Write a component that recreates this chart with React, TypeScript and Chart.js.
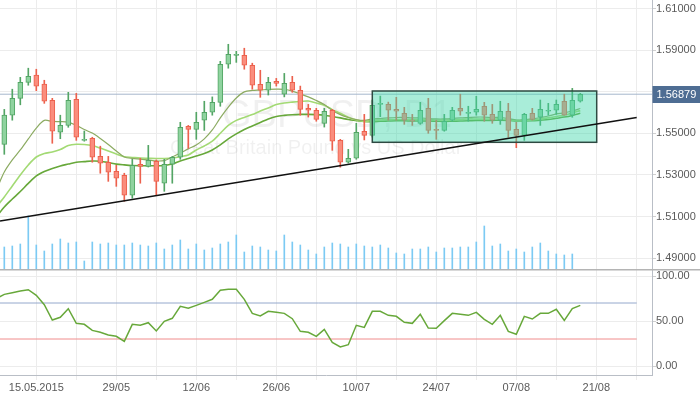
import React, { useEffect, useRef } from 'react';
import { Chart, registerables } from 'chart.js';

Chart.register(...registerables);

// ---------- data (daily GBPUSD candles, index 0 = 11.05.2015) ----------
const OPEN = [
  1.5447, 1.5587, 1.5668, 1.5745, 1.5780, 1.5737, 1.5659, 1.5505, 1.5538, 1.5663,
  1.5466, 1.5476, 1.5389, 1.5361, 1.5317, 1.5298, 1.5202, 1.5351, 1.5341, 1.5365,
  1.5260, 1.5351, 1.5385, 1.5534, 1.5519, 1.5563, 1.5601, 1.5649, 1.5832, 1.5875,
  1.5875, 1.5827, 1.5736, 1.5707, 1.5750, 1.5688, 1.5745, 1.5707, 1.5620, 1.5611,
  1.5548, 1.5611, 1.5466, 1.5361, 1.5380, 1.5510, 1.5490, 1.5639, 1.5639, 1.5615,
  1.5596, 1.5563, 1.5548, 1.5620, 1.5519, 1.5514, 1.5563, 1.5620, 1.5596, 1.5601,
  1.5630, 1.5591, 1.5563, 1.5606, 1.5519, 1.5490, 1.5596, 1.5577, 1.5606, 1.5611,
  1.5654, 1.5587, 1.5654,
];
const HIGH = [
  1.5615, 1.5712, 1.5769, 1.5813, 1.5808, 1.5755, 1.5668, 1.5587, 1.5697, 1.5692,
  1.5511, 1.5481, 1.5438, 1.5389, 1.5346, 1.5308, 1.5375, 1.5380, 1.5442, 1.5372,
  1.5375, 1.5389, 1.5553, 1.5538, 1.5601, 1.5654, 1.5675, 1.5846, 1.5928, 1.5894,
  1.5909, 1.5837, 1.5803, 1.5769, 1.5764, 1.5788, 1.5774, 1.5727, 1.5639, 1.5620,
  1.5620, 1.5615, 1.5471, 1.5423, 1.5548, 1.5591, 1.5660, 1.5679, 1.5650, 1.5673,
  1.5625, 1.5591, 1.5649, 1.5668, 1.5563, 1.5591, 1.5625, 1.5688, 1.5630, 1.5678,
  1.5649, 1.5639, 1.5654, 1.5644, 1.5553, 1.5596, 1.5620, 1.5660, 1.5644, 1.5660,
  1.5688, 1.5716, 1.5692,
];
const LOW = [
  1.5399, 1.5563, 1.5637, 1.5731, 1.5705, 1.5644, 1.5452, 1.5474, 1.5529, 1.5466,
  1.5462, 1.5361, 1.5308, 1.5269, 1.5245, 1.5173, 1.5188, 1.5260, 1.5338, 1.5200,
  1.5221, 1.5260, 1.5375, 1.5428, 1.5471, 1.5514, 1.5587, 1.5630, 1.5813, 1.5841,
  1.5808, 1.5712, 1.5673, 1.5684, 1.5727, 1.5675, 1.5697, 1.5587, 1.5578, 1.5558,
  1.5530, 1.5418, 1.5337, 1.5357, 1.5375, 1.5468, 1.5482, 1.5580, 1.5563, 1.5563,
  1.5543, 1.5538, 1.5543, 1.5500, 1.5471, 1.5510, 1.5558, 1.5587, 1.5558, 1.5587,
  1.5558, 1.5548, 1.5543, 1.5481, 1.5431, 1.5466, 1.5563, 1.5538, 1.5587, 1.5591,
  1.5587, 1.5577, 1.5650,
];
const CLOSE = [
  1.5587, 1.5668, 1.5745, 1.5774, 1.5726, 1.5654, 1.5510, 1.5538, 1.5659, 1.5481,
  1.5471, 1.5385, 1.5356, 1.5313, 1.5284, 1.5202, 1.5346, 1.5341, 1.5370, 1.5269,
  1.5351, 1.5385, 1.5529, 1.5519, 1.5553, 1.5601, 1.5649, 1.5832, 1.5880, 1.5880,
  1.5827, 1.5731, 1.5707, 1.5745, 1.5740, 1.5740, 1.5707, 1.5615, 1.5611, 1.5567,
  1.5606, 1.5462, 1.5361, 1.5380, 1.5505, 1.5490, 1.5635, 1.5644, 1.5611, 1.5606,
  1.5563, 1.5558, 1.5611, 1.5514, 1.5514, 1.5558, 1.5611, 1.5606, 1.5601, 1.5615,
  1.5587, 1.5563, 1.5606, 1.5514, 1.5490, 1.5591, 1.5567, 1.5615, 1.5611, 1.5639,
  1.5587, 1.5659, 1.56879,
];
const VOLUME = [
  22, 23, 25, 53, 24, 18, 25, 30, 26, 27,
  8, 27, 25, 26, 24, 24, 26, 24, 23, 26,
  20, 24, 29, 20, 25, 19, 21, 25, 27, 34,
  17, 23, 22, 19, 18, 34, 27, 24, 19, 15,
  22, 26, 25, 22, 25, 23, 22, 24, 21, 16,
  15, 20, 20, 22, 17, 21, 21, 22, 22, 27,
  43, 23, 25, 18, 20, 17, 22, 26, 18, 15,
  14, 15,
];
// indicator series start one bar before the first visible candle
const SERIES_START = -1;
const MA_FAST = [
  1.5227,
  1.5314, 1.5372, 1.5420, 1.5473, 1.5525, 1.5562, 1.5557, 1.5556, 1.5554, 1.5538,
  1.5518, 1.5501, 1.5475, 1.5446, 1.5415, 1.5386, 1.5379, 1.5376, 1.5372, 1.5367,
  1.5369, 1.5386, 1.5405, 1.5425, 1.5444, 1.5473, 1.5516, 1.5574, 1.5626, 1.5670,
  1.5699, 1.5706, 1.5708, 1.5711, 1.5712, 1.5711, 1.5703, 1.5689, 1.5675, 1.5658,
  1.5638, 1.5610, 1.5590, 1.5576, 1.5566, 1.5562, 1.5569, 1.5571, 1.5574, 1.5576,
  1.5576, 1.5574, 1.5574, 1.5571, 1.5569, 1.5569, 1.5571, 1.5574, 1.5576, 1.5578,
  1.5578, 1.5576, 1.5576, 1.5571, 1.5564, 1.5566, 1.5569, 1.5576, 1.5583, 1.5593,
  1.5598, 1.5607, 1.5619,
];
const MA_MID = [
  1.5146,
  1.5194, 1.5247, 1.5300, 1.5348, 1.5386, 1.5403, 1.5410, 1.5422, 1.5441, 1.5447,
  1.5446, 1.5441, 1.5429, 1.5415, 1.5400, 1.5387, 1.5384, 1.5381, 1.5380, 1.5379,
  1.5379, 1.5381, 1.5388, 1.5396, 1.5420, 1.5439, 1.5462, 1.5500, 1.5538, 1.5562,
  1.5576, 1.5590, 1.5607, 1.5622, 1.5638, 1.5646, 1.5650, 1.5653, 1.5655, 1.5646,
  1.5635, 1.5614, 1.5596, 1.5577, 1.5564, 1.5557, 1.5562, 1.5564, 1.5566, 1.5566,
  1.5566, 1.5566, 1.5566, 1.5566, 1.5564, 1.5564, 1.5564, 1.5566, 1.5569, 1.5569,
  1.5569, 1.5569, 1.5569, 1.5566, 1.5562, 1.5562, 1.5564, 1.5569, 1.5574, 1.5581,
  1.5588, 1.5598, 1.5609,
];
const MA_SLOW = [
  1.5098,
  1.5146, 1.5184, 1.5220, 1.5259, 1.5295, 1.5316, 1.5331, 1.5343, 1.5352, 1.5361,
  1.5364, 1.5367, 1.5366, 1.5360, 1.5352, 1.5348, 1.5345, 1.5344, 1.5344, 1.5344,
  1.5345, 1.5352, 1.5367, 1.5379, 1.5391, 1.5403, 1.5420, 1.5444, 1.5473, 1.5497,
  1.5518, 1.5535, 1.5552, 1.5569, 1.5581, 1.5586, 1.5589, 1.5591, 1.5591, 1.5590,
  1.5587, 1.5581, 1.5574, 1.5566, 1.5561, 1.5557, 1.5556, 1.5558, 1.5559, 1.5560,
  1.5560, 1.5559, 1.5559, 1.5559, 1.5558, 1.5557, 1.5558, 1.5559, 1.5560, 1.5562,
  1.5562, 1.5562, 1.5563, 1.5562, 1.5559, 1.5559, 1.5560, 1.5563, 1.5566, 1.5572,
  1.5578, 1.5586, 1.5596,
];
const OSC = [
  75.0,
  79.6, 81.5, 83.3, 84.8, 78.5, 68.1, 51.1, 54.1, 63.7, 47.4,
  46.3, 39.6, 37.4, 34.4, 33.0, 27.4, 46.3, 45.2, 48.1, 38.9,
  49.6, 53.0, 66.3, 64.1, 67.4, 70.7, 74.1, 84.1, 85.2, 85.2,
  74.1, 58.5, 55.6, 60.7, 59.6, 58.5, 52.6, 38.5, 37.4, 33.0,
  40.7, 26.3, 21.1, 23.7, 45.2, 42.9, 60.7, 60.7, 56.3, 55.2,
  48.5, 47.4, 57.4, 42.2, 41.9, 50.4, 58.5, 57.4, 56.3, 59.6,
  51.9, 46.3, 56.3, 38.5, 35.2, 55.2, 52.2, 58.5, 58.5, 63.0,
  50.7, 63.7, 67.4,
];
const OSC_LEVELS = [70, 30];
const LAST_PRICE = 1.56879;

const X_TICK_POS = [4, 14, 24, 34, 44, 54, 64, 74];
const X_TICK_LABELS = ['15.05.2015', '29/05', '12/06', '26/06', '10/07', '24/07', '07/08', '21/08'];
const PRICE_TICKS = [1.49, 1.51, 1.53, 1.55, 1.57, 1.59, 1.61];
const OSC_TICKS = [0, 50, 100];

// drawn objects (in data units)
const TREND_X = [-0.5375, 79.05];
const TREND_Y = [1.5078, 1.5576];
const RECT_X = [46, 74.05];
const RECT_Y = [1.57034, 1.54567];
const LEVEL_END_X = 79.05;

const WATERMARK_TITLE = 'GBPUSD, D1';
const WATERMARK_SUB = 'Great Britain Pound vs US Dollar';

// ---------- layout / style ----------
const X_MIN = -0.5375;
const X_MAX = 80.9625;
const Y_MIN = 1.48476;
const Y_MAX = 1.614087;
const OSC_MIN = -10;
const OSC_MAX = 107.78;
const GRID = '#ececec';
const AXIS = '#b9bec6';
const LABEL = '#5a5a5a';
const FONT = "'Liberation Sans', Arial, sans-serif";
const UP_FILL = '#8fd39f';
const UP_LINE = '#53a565';
const DN_FILL = '#fa8d7d';
const DN_LINE = '#ec614d';

function gridTicks() {
  const t: { value: number }[] = [];
  for (let v = X_TICK_POS[0]; v <= X_MAX; v += 5) t.push({ value: v });
  return t;
}

export default function App() {
  const topRef = useRef<HTMLCanvasElement>(null);
  const botRef = useRef<HTMLCanvasElement>(null);

  useEffect(() => {
    Chart.defaults.font.family = FONT;
    Chart.defaults.font.size = 11;

    const idx = OPEN.map((_, i) => i);
    const up = idx.map((i) => CLOSE[i] >= OPEN[i]);
    const series = (arr: number[]) => arr.map((v, i) => ({ x: i + SERIES_START, y: v }));

    const topPlugin = {
      id: 'topOverlay',
      beforeDatasetsDraw(chart: any) {
        const { ctx } = chart;
        ctx.save();
        ctx.fillStyle = 'rgba(0,0,0,0.06)';
        ctx.textBaseline = 'alphabetic';
        ctx.textAlign = 'left';
        ctx.font = `38px ${FONT}`;
        ctx.fillText(WATERMARK_TITLE, 222, 127);
        ctx.font = `20px ${FONT}`;
        ctx.fillText(WATERMARK_SUB, 170, 154);
        ctx.restore();
      },
      beforeDatasetDraw(chart: any, args: any) {
        if (chart.data.datasets[args.index].label !== 'trend') return;
        const xs = chart.scales.x;
        const ys = chart.scales.y;
        const x1 = xs.getPixelForValue(RECT_X[0]);
        const x2 = xs.getPixelForValue(RECT_X[1]);
        const y1 = ys.getPixelForValue(RECT_Y[0]);
        const y2 = ys.getPixelForValue(RECT_Y[1]);
        const { ctx } = chart;
        ctx.save();
        ctx.fillStyle = 'rgba(64,214,170,0.45)';
        ctx.fillRect(x1, y1, x2 - x1, y2 - y1);
        ctx.strokeStyle = '#2e4a42';
        ctx.lineWidth = 1.5;
        ctx.strokeRect(x1, y1, x2 - x1, y2 - y1);
        ctx.restore();
      },
      afterDraw(chart: any) {
        const { ctx, chartArea } = chart;
        const y = chart.scales.y.getPixelForValue(LAST_PRICE);
        ctx.save();
        ctx.fillStyle = '#4e6d93';
        ctx.fillRect(chartArea.right + 0.5, Math.round(y) - 8, 48, 17);
        ctx.fillStyle = '#ffffff';
        ctx.font = `11px ${FONT}`;
        ctx.textBaseline = 'middle';
        ctx.textAlign = 'left';
        ctx.fillText(LAST_PRICE.toFixed(5), chartArea.right + 4.5, Math.round(y) + 0.5);
        ctx.restore();
      },
    };

    const c1 = new Chart(topRef.current as HTMLCanvasElement, {
      type: 'bar',
      data: {
        datasets: [
          {
            type: 'line',
            label: 'trend',
            data: [
              { x: TREND_X[0], y: TREND_Y[0] },
              { x: TREND_X[1], y: TREND_Y[1] },
            ],
            borderColor: '#111111',
            borderWidth: 1.5,
            pointRadius: 0,
            yAxisID: 'y',
            order: 0,
          },
          {
            type: 'bar',
            label: 'body',
            data: idx.map((i) => ({ x: i, y: [Math.min(OPEN[i], CLOSE[i]), Math.max(OPEN[i], CLOSE[i])] })),
            backgroundColor: up.map((u) => (u ? UP_FILL : DN_FILL)),
            borderColor: up.map((u) => (u ? UP_LINE : DN_LINE)),
            borderWidth: 1,
            borderSkipped: false,
            barThickness: 5,
            grouped: false,
            yAxisID: 'y',
            order: 1,
          },
          {
            type: 'bar',
            label: 'wick',
            data: idx.map((i) => ({ x: i, y: [LOW[i], HIGH[i]] })),
            backgroundColor: up.map((u) => (u ? UP_LINE : DN_LINE)),
            borderWidth: 0,
            barThickness: 1,
            grouped: false,
            yAxisID: 'y',
            order: 2,
          },
          {
            type: 'line',
            label: 'maFast',
            data: series(MA_FAST),
            borderColor: '#8cab62',
            borderWidth: 1.2,
            pointRadius: 0,
            tension: 0.3,
            yAxisID: 'y',
            order: 3,
          },
          {
            type: 'line',
            label: 'maMid',
            data: series(MA_MID),
            borderColor: '#a3da74',
            borderWidth: 1.6,
            pointRadius: 0,
            tension: 0.3,
            yAxisID: 'y',
            order: 4,
          },
          {
            type: 'line',
            label: 'maSlow',
            data: series(MA_SLOW),
            borderColor: '#67a83a',
            borderWidth: 1.6,
            pointRadius: 0,
            tension: 0.3,
            yAxisID: 'y',
            order: 5,
          },
          {
            type: 'line',
            label: 'last',
            data: [
              { x: X_MIN, y: LAST_PRICE },
              { x: X_MAX, y: LAST_PRICE },
            ],
            borderColor: '#a6b7cc',
            borderWidth: 1,
            pointRadius: 0,
            yAxisID: 'y',
            order: 6,
          },
          {
            type: 'bar',
            label: 'volume',
            data: VOLUME.map((v, i) => ({ x: i, y: v })),
            backgroundColor: '#7ccaf3',
            borderWidth: 0,
            barThickness: 1,
            grouped: false,
            yAxisID: 'yVol',
            order: 7,
          },
        ],
      } as any,
      options: {
        responsive: false,
        animation: false,
        events: [],
        layout: { padding: 0 },
        plugins: { legend: { display: false }, tooltip: { enabled: false } },
        scales: {
          x: {
            type: 'linear',
            min: X_MIN,
            max: X_MAX,
            offset: false,
            bounds: 'data',
            grid: { color: GRID, drawTicks: false, offset: false },
            border: { display: false },
            ticks: { display: false },
            afterBuildTicks: (s: any) => {
              s.ticks = gridTicks();
            },
            afterFit: (s: any) => {
              s.height = 0;
              s.paddingLeft = 0;
              s.paddingRight = 0;
            },
          },
          y: {
            type: 'linear',
            position: 'right',
            min: Y_MIN,
            max: Y_MAX,
            bounds: 'data',
            grid: { color: GRID, tickLength: 4, tickColor: '#cfcfcf' },
            border: { color: AXIS, width: 1 },
            ticks: {
              color: LABEL,
              padding: 0,
              autoSkip: false,
              font: { size: 11, family: FONT },
              callback: (v: any) => (Math.abs(v - LAST_PRICE) < 0.005 ? '' : Number(v).toFixed(5)),
            },
            afterBuildTicks: (s: any) => {
              s.ticks = PRICE_TICKS.map((v) => ({ value: v }));
            },
            afterFit: (s: any) => {
              s.width = 48;
              s.paddingTop = 0;
              s.paddingBottom = 0;
            },
          },
          yVol: {
            type: 'linear',
            display: false,
            min: 0,
            max: 269,
          },
        },
      } as any,
      plugins: [topPlugin],
    });

    const botPlugin = {
      id: 'botOverlay',
      afterDraw(chart: any) {
        const { ctx, width } = chart;
        ctx.save();
        ctx.strokeStyle = '#b4b4b4';
        ctx.lineWidth = 1.5;
        ctx.beginPath();
        ctx.moveTo(0, 0.75);
        ctx.lineTo(width, 0.75);
        ctx.stroke();
        ctx.restore();
      },
    };

    const c2 = new Chart(botRef.current as HTMLCanvasElement, {
      type: 'line',
      data: {
        datasets: [
          {
            label: 'osc',
            data: series(OSC),
            borderColor: '#67a83a',
            borderWidth: 1.5,
            pointRadius: 0,
            tension: 0,
            order: 0,
          },
          {
            label: 'level70',
            data: [
              { x: X_MIN, y: OSC_LEVELS[0] },
              { x: LEVEL_END_X, y: OSC_LEVELS[0] },
            ],
            borderColor: '#94a8cc',
            borderWidth: 1,
            pointRadius: 0,
            order: 1,
          },
          {
            label: 'level30',
            data: [
              { x: X_MIN, y: OSC_LEVELS[1] },
              { x: LEVEL_END_X, y: OSC_LEVELS[1] },
            ],
            borderColor: '#f08c8c',
            borderWidth: 1,
            pointRadius: 0,
            order: 2,
          },
        ],
      } as any,
      options: {
        responsive: false,
        animation: false,
        events: [],
        layout: { padding: 0 },
        plugins: { legend: { display: false }, tooltip: { enabled: false } },
        scales: {
          x: {
            type: 'linear',
            min: X_MIN,
            max: X_MAX,
            offset: false,
            bounds: 'data',
            grid: { color: GRID, tickLength: 5, tickColor: GRID },
            border: { color: AXIS, width: 1 },
            ticks: {
              color: LABEL,
              padding: 1,
              autoSkip: false,
              maxRotation: 0,
              font: { size: 11, family: FONT },
              callback: (v: any) => {
                const i = X_TICK_POS.indexOf(Number(v));
                return i >= 0 ? X_TICK_LABELS[i] : '';
              },
            },
            afterBuildTicks: (s: any) => {
              s.ticks = gridTicks();
            },
            afterFit: (s: any) => {
              s.height = 19;
              s.paddingLeft = 0;
              s.paddingRight = 0;
            },
          },
          y: {
            type: 'linear',
            position: 'right',
            min: OSC_MIN,
            max: OSC_MAX,
            bounds: 'data',
            grid: { color: GRID, tickLength: 4, tickColor: '#cfcfcf' },
            border: { color: AXIS, width: 1 },
            ticks: {
              color: LABEL,
              padding: 0,
              autoSkip: false,
              font: { size: 11, family: FONT },
              callback: (v: any) => Number(v).toFixed(2),
            },
            afterBuildTicks: (s: any) => {
              s.ticks = OSC_TICKS.map((v) => ({ value: v }));
            },
            afterFit: (s: any) => {
              s.width = 48;
              s.paddingTop = 0;
              s.paddingBottom = 0;
            },
          },
        },
      } as any,
      plugins: [botPlugin],
    });

    return () => {
      c1.destroy();
      c2.destroy();
    };
  }, []);

  return (
    <div style={{ position: 'fixed', left: 0, top: 0, width: 700, height: 394, background: '#ffffff' }}>
      <canvas ref={topRef} width={700} height={269} style={{ position: 'absolute', left: 0, top: 0 }} />
      <canvas ref={botRef} width={700} height={125} style={{ position: 'absolute', left: 0, top: 269 }} />
    </div>
  );
}
